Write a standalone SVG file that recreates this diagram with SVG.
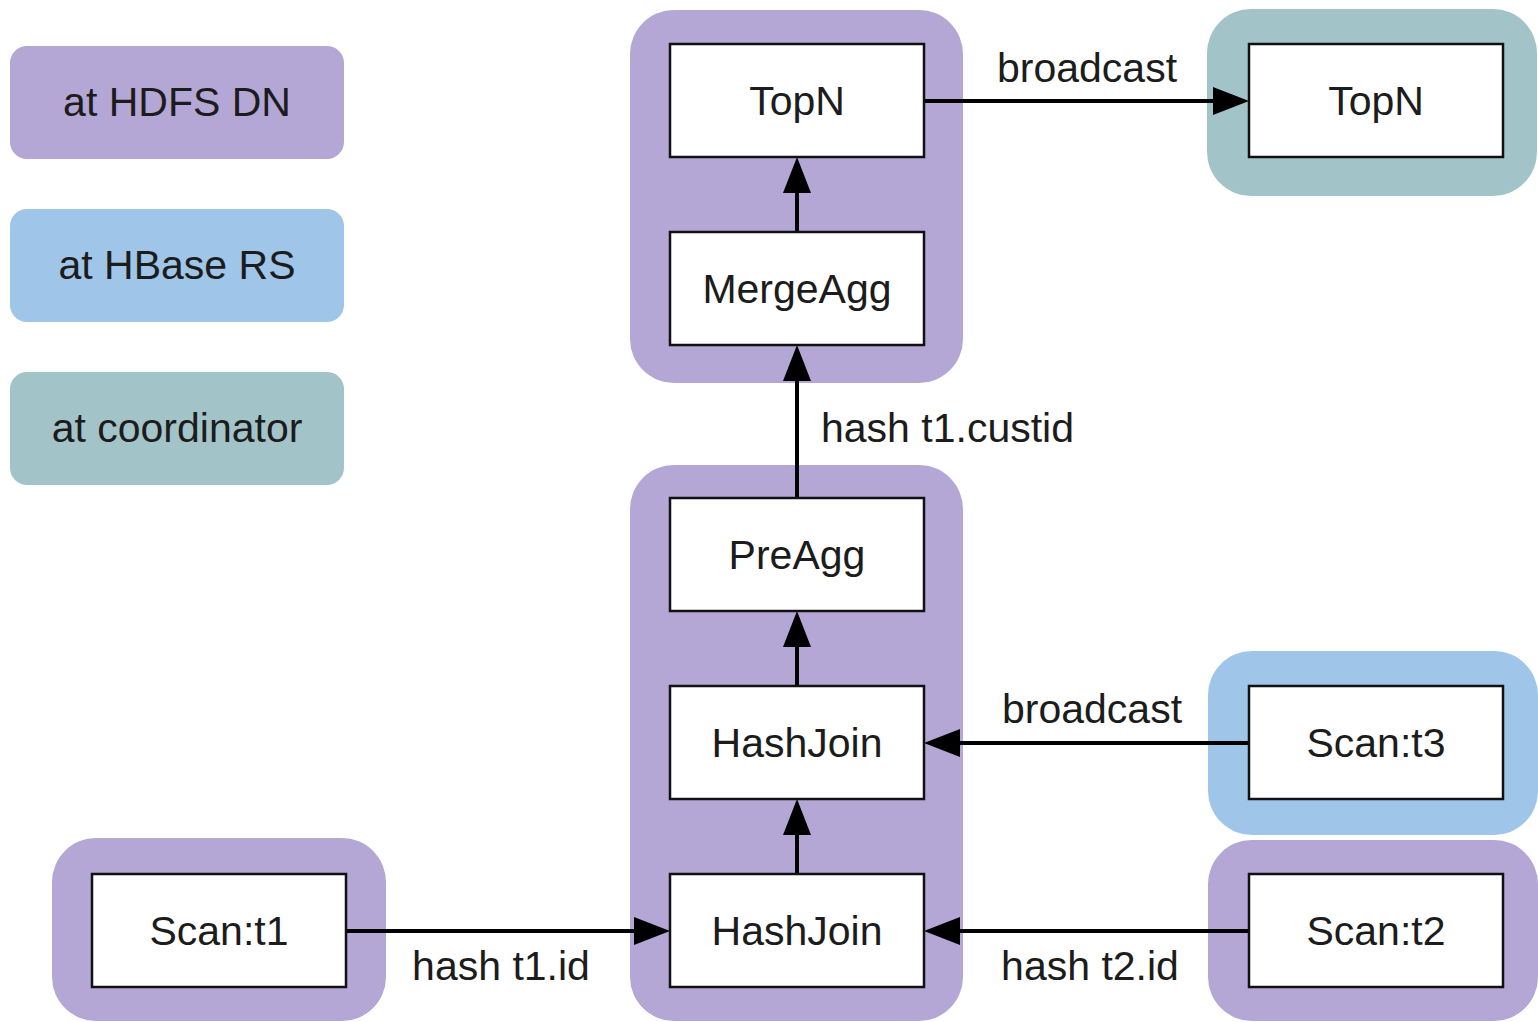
<svg xmlns="http://www.w3.org/2000/svg" width="1538" height="1022" viewBox="0 0 1538 1022">
  <style>
    .hdfs { fill: #b4a7d6; }
    .hbase { fill: #9fc5e8; }
    .coord { fill: #a2c4c9; }
    .op { fill: #ffffff; stroke: #111111; stroke-width: 2.5; }
    text { font-family: "Liberation Sans", Arial, sans-serif; font-size: 41px; fill: #1c1c1c; }
    .c { text-anchor: middle; }
    .edge { stroke: #000000; stroke-width: 4; fill: none; marker-end: url(#arrow); }
  </style>
  <defs>
    <marker id="arrow" markerUnits="userSpaceOnUse" markerWidth="37" markerHeight="30" refX="6" refY="15" orient="auto">
      <path d="M0,1 L36,15 L0,29 Z" fill="#000000"/>
    </marker>
  </defs>
  <rect width="1538" height="1022" fill="#ffffff"/>

  <!-- legend -->
  <g id="legend">
    <g id="legend-hdfs">
      <rect class="hdfs" x="10" y="46" width="334" height="113" rx="17"/>
      <text class="c" x="177" y="116">at HDFS DN</text>
    </g>
    <g id="legend-hbase">
      <rect class="hbase" x="10" y="209" width="334" height="113" rx="17"/>
      <text class="c" x="177" y="279">at HBase RS</text>
    </g>
    <g id="legend-coord">
      <rect class="coord" x="10" y="372" width="334" height="113" rx="17"/>
      <text class="c" x="177" y="442">at coordinator</text>
    </g>
  </g>

  <!-- placement clusters -->
  <g id="clusters">
    <rect id="cluster-agg" class="hdfs" x="630" y="10" width="333" height="373" rx="44"/>
    <rect id="cluster-join" class="hdfs" x="630" y="465" width="333" height="556" rx="44"/>
    <rect id="cluster-t1" class="hdfs" x="52" y="838" width="334" height="183" rx="44"/>
    <rect id="cluster-t2" class="hdfs" x="1208" y="840" width="330" height="181" rx="44"/>
    <rect id="cluster-t3" class="hbase" x="1208" y="651" width="330" height="184" rx="44"/>
    <rect id="cluster-coord" class="coord" x="1207" y="9" width="330" height="187" rx="44"/>
  </g>

  <!-- connectors -->
  <g id="connectors">
    <path class="edge" d="M924,101 H1219"/>
    <path class="edge" d="M797,232 V187"/>
    <path class="edge" d="M797,498 V375"/>
    <path class="edge" d="M797,686 V641"/>
    <path class="edge" d="M797,874 V829"/>
    <path class="edge" d="M1249,743 H954"/>
    <path class="edge" d="M1249,931 H954"/>
    <path class="edge" d="M346,931 H640"/>
    <text class="c" x="1087" y="82">broadcast</text>
    <text x="821" y="442">hash t1.custid</text>
    <text class="c" x="1092" y="723">broadcast</text>
    <text class="c" x="1090" y="980">hash t2.id</text>
    <text class="c" x="501" y="980">hash t1.id</text>
  </g>

  <!-- operators -->
  <g id="topn">
    <rect class="op" x="670" y="44" width="254" height="113"/>
    <text class="c" x="797" y="115">TopN</text>
  </g>
  <g id="mergeagg">
    <rect class="op" x="670" y="232" width="254" height="113"/>
    <text class="c" x="797" y="303">MergeAgg</text>
  </g>
  <g id="preagg">
    <rect class="op" x="670" y="498" width="254" height="113"/>
    <text class="c" x="797" y="569">PreAgg</text>
  </g>
  <g id="hashjoin-upper">
    <rect class="op" x="670" y="686" width="254" height="113"/>
    <text class="c" x="797" y="757">HashJoin</text>
  </g>
  <g id="hashjoin-lower">
    <rect class="op" x="670" y="874" width="254" height="113"/>
    <text class="c" x="797" y="945">HashJoin</text>
  </g>
  <g id="scan-t1">
    <rect class="op" x="92" y="874" width="254" height="113"/>
    <text class="c" x="219" y="945">Scan:t1</text>
  </g>
  <g id="scan-t2">
    <rect class="op" x="1249" y="874" width="254" height="113"/>
    <text class="c" x="1376" y="945">Scan:t2</text>
  </g>
  <g id="scan-t3">
    <rect class="op" x="1249" y="686" width="254" height="113"/>
    <text class="c" x="1376" y="757">Scan:t3</text>
  </g>
  <g id="topn-coord">
    <rect class="op" x="1249" y="44" width="254" height="113"/>
    <text class="c" x="1376" y="115">TopN</text>
  </g>
</svg>
